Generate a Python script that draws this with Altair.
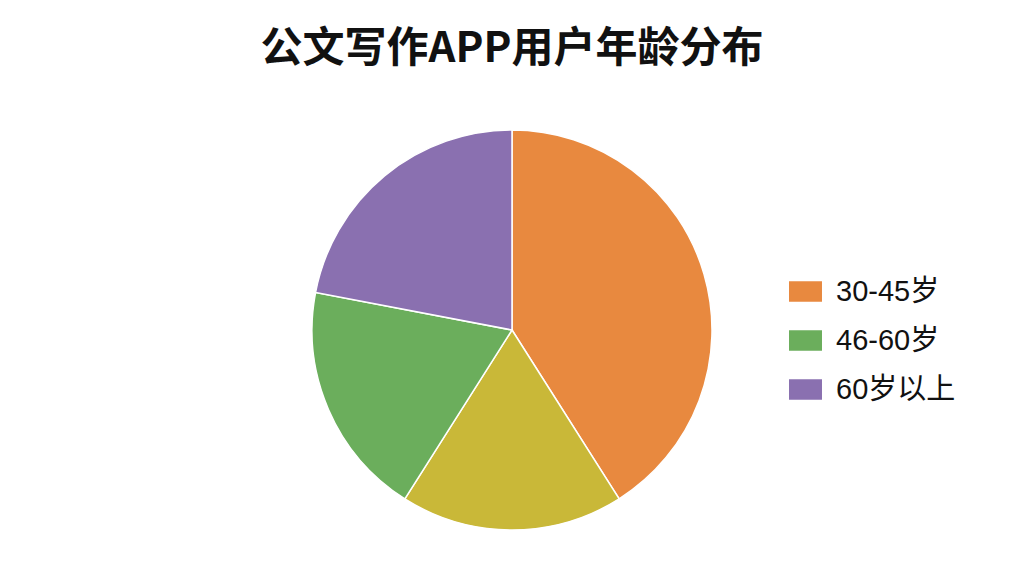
import altair as alt
import pandas as pd

title_text = "公文写作APP用户年龄分布"
categories = ["30-45岁", "18-29岁", "46-60岁", "60岁以上"]
shares = [41, 18, 19, 22]
colors = ["#E8893F", "#C9B838", "#6BAE5C", "#8A70B0"]
legend_shown = ["30-45岁", "46-60岁", "60岁以上"]

df = pd.DataFrame({"age": categories, "share": shares, "idx": list(range(len(categories)))})
tdf = pd.DataFrame({"t": [title_text]})

pie = alt.Chart(df).mark_arc(radius=200, stroke="white", strokeWidth=1.5).encode(
    theta=alt.Theta("share:Q", stack=True),
    order=alt.Order("idx:Q"),
    color=alt.Color(
        "age:N",
        scale=alt.Scale(domain=categories, range=colors),
        legend=alt.Legend(
            title=None,
            values=legend_shown,
            orient="none",
            legendX=783,
            legendY=269,
            symbolType="M-1.6,-1 L1.6,-1 L1.6,1 L-1.6,1 Z",
            symbolSize=425,
            symbolStrokeWidth=0,
            labelFontSize=29,
            labelFont="Liberation Sans, Noto Sans CJK SC",
            labelColor="#111111",
            labelOffset=16,
            rowPadding=19,
            padding=0,
        ),
    ),
    x=alt.value(504),
    y=alt.value(322),
)

title = alt.Chart(tdf).mark_text(
    fontSize=42, fontWeight="bold", font="Noto Sans CJK SC", color="#111111",
    align="center", baseline="middle",
).encode(text="t:N", x=alt.value(504), y=alt.value(41))

chart = alt.layer(pie, title).properties(
    width=1008, height=560, autosize=alt.AutoSizeParams(type="none"), padding=0,
    background="white",
).configure_view(stroke=None)

chart.save("out.html", embed_options={"renderer": "svg", "actions": False})
